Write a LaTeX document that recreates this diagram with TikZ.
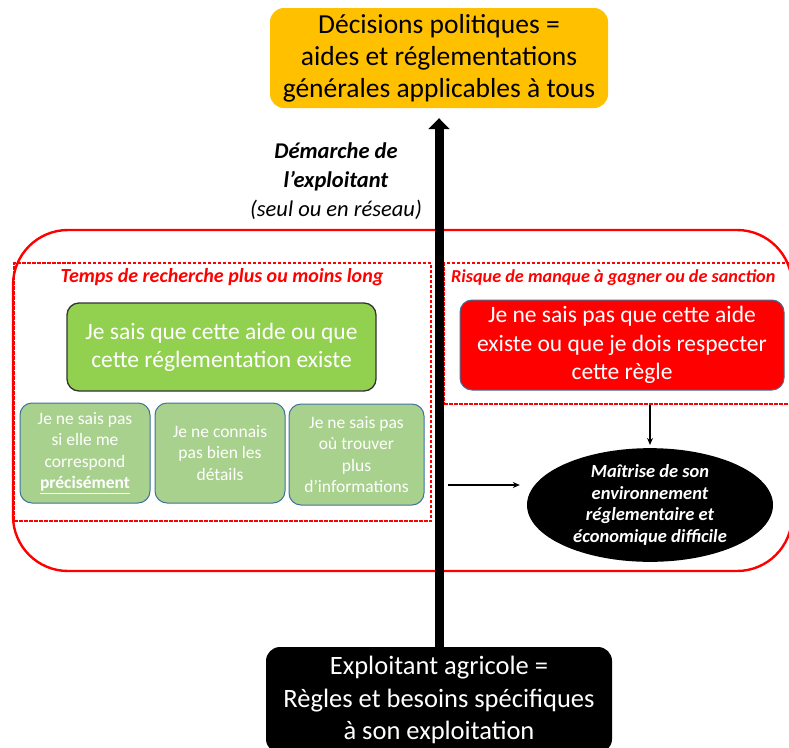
\documentclass[tikz,border=0pt]{standalone}
\usepackage{fontspec}
\setmainfont{Carlito}
\usetikzlibrary{arrows.meta,shapes.geometric,positioning}

\definecolor{orangeDec}{HTML}{FFC000}
\definecolor{vertFort}{HTML}{92D050}
\definecolor{vertPale}{HTML}{A9D18E}
\definecolor{bordBleu}{HTML}{41719C}
\definecolor{rougeVif}{HTML}{FF0000}

\tikzstyle{every node}=[align=center,inner sep=0pt]
\tikzstyle{decbox}=[fill=orangeDec,rounded corners=14pt,text=black,font=\fontsize{27.5}{32}\selectfont]
\tikzstyle{exbox}=[fill=black,rounded corners=14pt,text=white,font=\fontsize{26.5}{32.5}\selectfont]
\tikzstyle{savoirbox}=[fill=vertFort,draw=black!80,line width=1.3pt,rounded corners=12pt,text=white,font=\fontsize{23.5}{28}\selectfont]
\tikzstyle{detailbox}=[fill=vertPale,draw=bordBleu,line width=1pt,rounded corners=12pt,text=white,font=\fontsize{17.5}{21.5}\selectfont]
\tikzstyle{risquebox}=[fill=rougeVif,draw=bordBleu,line width=1pt,rounded corners=12pt,text=white,font=\fontsize{23.5}{28.5}\selectfont]
\tikzstyle{zonebox}=[draw=rougeVif,color=rougeVif,line width=1.2pt,dash pattern=on 3.5pt off 1.5pt]
\tikzstyle{zonetitle}=[text=rougeVif,font=\fontsize{20}{22}\selectfont\bfseries\itshape]
\tikzstyle{maitrise}=[ellipse,fill=black,text=white,font=\fontsize{18.5}{21.5}\selectfont\bfseries\itshape]
\tikzstyle{fleche}=[-{Stealth[length=7pt,width=6pt]},line width=1.2pt]

\begin{document}
\begin{tikzpicture}[x=1pt,y=-1pt]
  \useasboundingbox (0,0) rectangle (789,747);

  % contour rouge
  \draw[rougeVif,line width=2.4pt,rounded corners=55pt] (13,230) rectangle (792,571);

  % zones en pointilles
  \node[zonebox,minimum width=417pt,minimum height=258pt] (tempszone) at (222.5,392) {};
  \node[zonebox,minimum width=360pt,minimum height=141pt] (risquezone) at (624,333.5) {};
  \node[zonetitle] (tempstitre) at (222,277) {Temps de recherche plus ou moins long};
  \node[zonetitle,font=\fontsize{18.2}{22}\selectfont\bfseries\itshape,anchor=west] (risquetitre) at (451,278)
    {Risque de manque à gagner ou de sanction};

  % boites
  \node[decbox,minimum width=338pt,minimum height=100pt] (decisions) at (439,58)
    {Décisions politiques =\\aides et réglementations\\générales applicables à tous};
  \node[exbox,minimum width=346pt,minimum height=106pt] (exploitant) at (439,700)
    {Exploitant agricole =\\Règles et besoins spécifiques\\à son exploitation};
  \node[savoirbox,minimum width=309pt,minimum height=88pt] (savoir) at (221.5,347)
    {Je sais que cette aide ou que\\cette réglementation existe};
  \node[detailbox,minimum width=130pt,minimum height=100pt] (correspond) at (85,453)
    {Je ne sais pas\\si elle me\\correspond\\\textbf{\underline{précisément}}};
  \node[detailbox,minimum width=130pt,minimum height=100pt,right=4pt of correspond] (details)
    {Je ne connais\\pas bien les\\détails};
  \node[detailbox,minimum width=135pt,minimum height=101pt] (trouver) at (356.5,454.5)
    {Je ne sais pas\\où trouver\\plus\\d’informations};
  \node[risquebox,minimum width=324pt,minimum height=90pt] (ignore) at (622,345)
    {Je ne sais pas que cette aide\\existe ou que je dois respecter\\cette règle};
  \node[maitrise,minimum width=246pt,minimum height=106pt] (environnement) at (650,505)
    {Maîtrise de son\\environnement\\réglementaire et\\économique difficile};

  % demarche
  \node[font=\fontsize{22.5}{29}\selectfont] (demarche) at (336,181)
    {\textbf{\textit{Démarche de}}\\\textbf{\textit{l’exploitant}}\\\textit{(seul ou en réseau)}};

  % fleches
  \draw[line width=9pt,-{Triangle[length=11pt,width=21pt]},shorten >=10pt] (exploitant.north) -- (decisions.south);
  \coordinate (depart) at (448,485);
  \draw[fleche,shorten >=7pt] (depart) -- (environnement.west |- depart);
  \draw[fleche,shorten >=3pt] (risquezone.south -| environnement.north) -- (environnement.north);
\end{tikzpicture}
\end{document}
